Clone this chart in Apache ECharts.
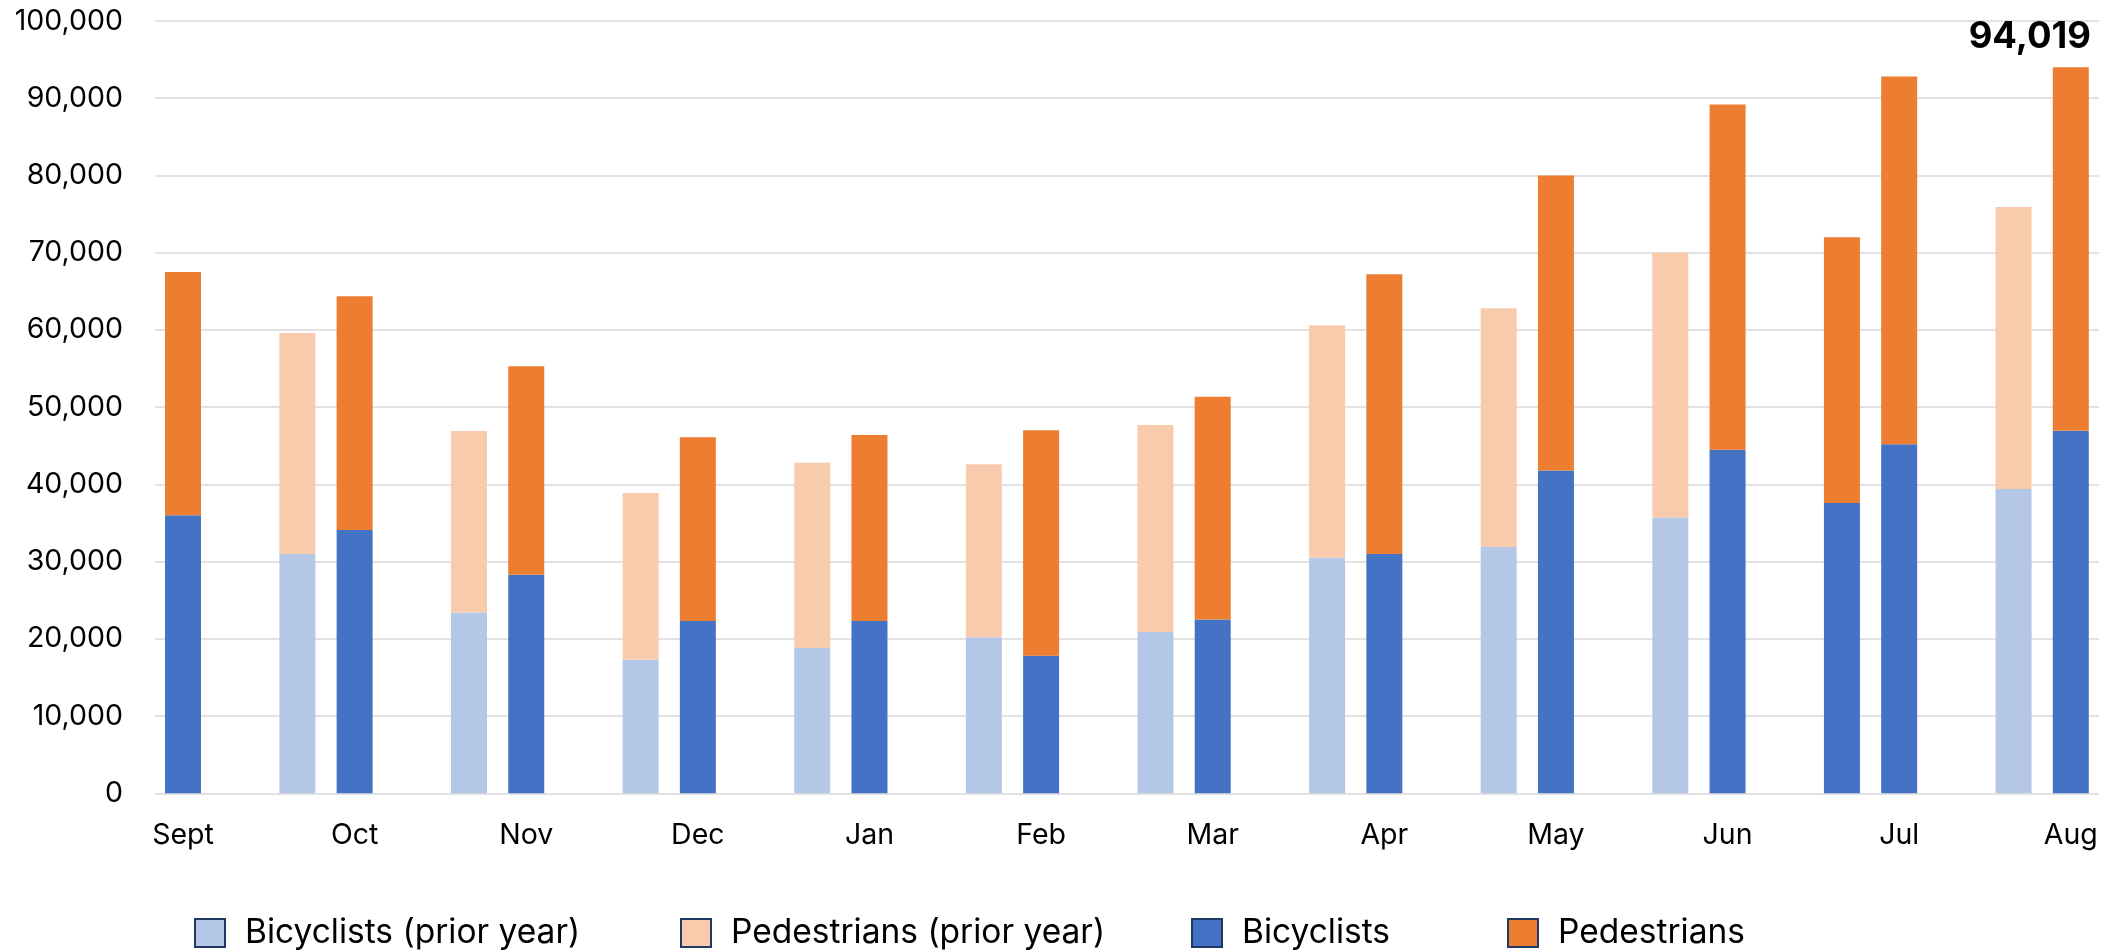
<!DOCTYPE html>
<html>
<head>
<meta charset="utf-8">
<title>Bicyclists and pedestrians by month</title>
<script src="https://cdn.jsdelivr.net/npm/echarts@6/dist/echarts.min.js"></script>
<style>
  html, body { margin: 0; padding: 0; background: #ffffff; }
  #chart { width: 2123px; height: 952px; }
</style>
</head>
<body>
<div id="chart"></div>
<script>
// Monthly counts, September through August
const months = ['Sept', 'Oct', 'Nov', 'Dec', 'Jan', 'Feb', 'Mar', 'Apr', 'May', 'Jun', 'Jul', 'Aug'];

// Prior year (no September figure)
const priorBicyclists  = [null, 31000, 23400, 17300, 18800, 20200, 20900, 30500, 31900, 35700, 37600, 39400];
const priorPedestrians = [null, 28600, 23500, 21600, 24000, 22400, 26800, 30100, 30900, 34300, 34400, 36500];

// Current year
const bicyclists  = [36000, 34100, 28300, 22300, 22300, 17800, 22500, 31000, 41800, 44500, 45200, 46950];
const pedestrians = [31500, 30250, 27000, 23800, 24100, 29200, 28850, 36200, 38200, 44700, 47600, 47069];

const yTicks = [0, 10000, 20000, 30000, 40000, 50000, 60000, 70000, 80000, 90000, 100000];

const FONT = 'Inter, "Liberation Sans", Arial, sans-serif';
const C = {
  bike: '#4472C4',
  ped: '#ED7D31',
  bikePrior: '#B4C7E7',
  pedPrior: '#F8CBAD',
  grid: '#D9D9D9',
  text: '#000000',
  iconBorder: '#1F3864'
};

// July's prior-year column is filled with the current-year palette
const priorInCurrentColours = ['Jul'];

function priorData(values, currentColour) {
  return values.map((v, i) =>
    priorInCurrentColours.includes(months[i]) && v != null
      ? { value: v, itemStyle: { color: currentColour } }
      : v
  );
}

const last = months.length - 1;
const latestTotal = bicyclists[last] + pedestrians[last];

const barCommon = {
  type: 'bar',
  xAxisIndex: 1,
  yAxisIndex: 1,
  barWidth: 36,
  barGap: '59%',
  clip: false,
  emphasis: { disabled: true }
};

const chart = echarts.init(document.getElementById('chart'), null, { renderer: 'canvas' });

function legendItem(name, left) {
  return {
    data: [name],
    left: left,
    top: 916,
    padding: 0,
    icon: 'rect',
    itemWidth: 30,
    itemHeight: 28,
    selectedMode: false,
    itemStyle: { borderColor: C.iconBorder, borderWidth: 2 },
    textStyle: { fontFamily: FONT, fontSize: 33.5, color: C.text, padding: [0, 0, 0, 15] }
  };
}

chart.setOption({
  animation: false,
  backgroundColor: '#ffffff',
  grid: [
    // value gridlines span the full plot width
    { left: 155, right: 24, top: 21, bottom: 158.7 },
    // month ticks sit on the current-year columns
    { left: 183, right: 52.2, top: 21, bottom: 158.7 }
  ],
  xAxis: [
    { type: 'value', gridIndex: 0, show: false, min: 0, max: 1 },
    {
      type: 'category',
      gridIndex: 1,
      data: months,
      boundaryGap: false,
      axisLine: { show: false },
      axisTick: { show: false },
      splitLine: { show: false },
      axisLabel: {
        interval: 0,
        margin: 28,
        fontFamily: FONT,
        fontSize: 28.5,
        color: C.text
      }
    }
  ],
  yAxis: [
    {
      type: 'value',
      gridIndex: 0,
      min: yTicks[0],
      max: yTicks[yTicks.length - 1],
      interval: yTicks[1] - yTicks[0],
      axisLine: { show: false },
      axisTick: { show: false },
      splitLine: { lineStyle: { color: C.grid, width: 1.6 } },
      axisLabel: {
        margin: 32,
        fontFamily: FONT,
        fontSize: 28.5,
        color: C.text,
        formatter: v => v.toLocaleString('en-US')
      }
    },
    {
      type: 'value',
      gridIndex: 1,
      min: yTicks[0],
      max: yTicks[yTicks.length - 1],
      interval: yTicks[1] - yTicks[0],
      show: false,
      splitLine: { show: false }
    }
  ],
  legend: [
    legendItem('Bicyclists (prior year)', 194),
    legendItem('Pedestrians (prior year)', 680),
    legendItem('Bicyclists', 1191),
    legendItem('Pedestrians', 1507)
  ],
  series: [
    Object.assign({}, barCommon, {
      name: 'Bicyclists (prior year)',
      stack: 'prior',
      itemStyle: { color: C.bikePrior },
      data: priorData(priorBicyclists, C.bike)
    }),
    Object.assign({}, barCommon, {
      name: 'Pedestrians (prior year)',
      stack: 'prior',
      itemStyle: { color: C.pedPrior },
      data: priorData(priorPedestrians, C.ped)
    }),
    Object.assign({}, barCommon, {
      name: 'Bicyclists',
      stack: 'current',
      itemStyle: { color: C.bike },
      data: bicyclists
    }),
    Object.assign({}, barCommon, {
      name: 'Pedestrians',
      stack: 'current',
      itemStyle: { color: C.ped },
      data: pedestrians.map((v, i) =>
        i === last
          ? {
              value: v,
              label: {
                show: true,
                position: 'top',
                distance: 5,
                offset: [-41, -7],
                fontFamily: FONT,
                fontSize: 36.5,
                fontWeight: 'bold',
                color: C.text,
                formatter: () => latestTotal.toLocaleString('en-US')
              }
            }
          : v
      )
    }),
    // empty slot to the right keeps each month's current-year column on its tick
    Object.assign({}, barCommon, {
      name: 'spacer',
      stack: 'spacer',
      silent: true,
      data: months.map(() => null)
    })
  ]
});
</script>
</body>
</html>
